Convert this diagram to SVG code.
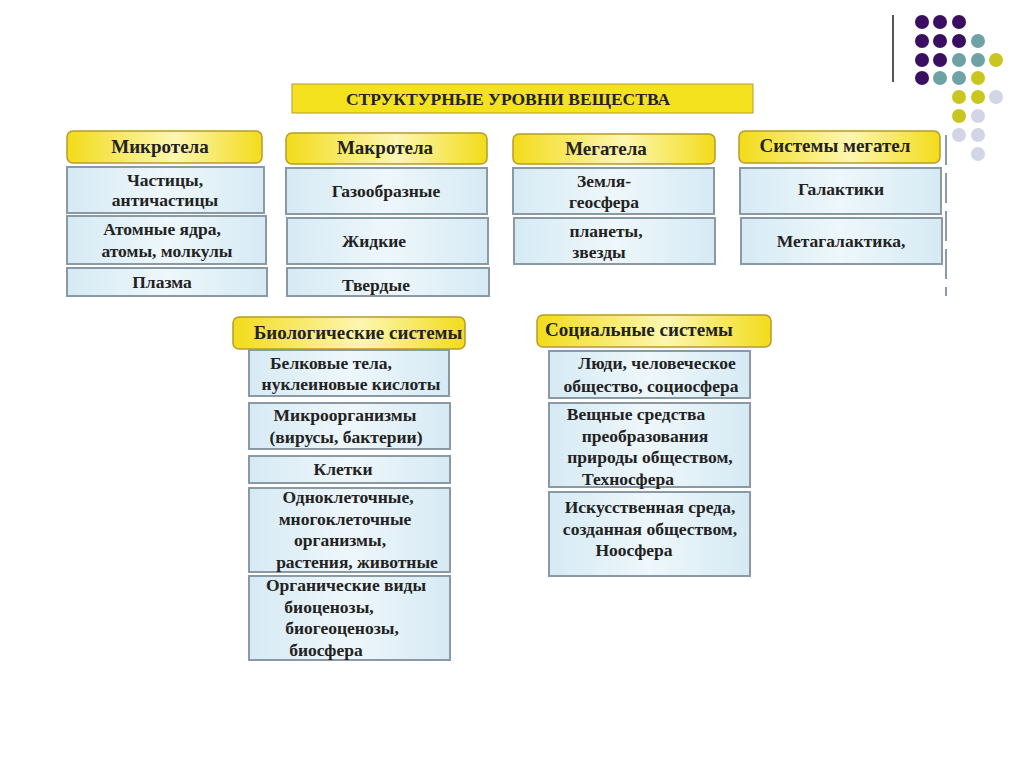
<svg xmlns="http://www.w3.org/2000/svg" width="1024" height="767" viewBox="0 0 1024 767">
<defs>
<linearGradient id="yg" x1="0" y1="0" x2="1" y2="0">
<stop offset="0" stop-color="#f2dc1a"/><stop offset="0.55" stop-color="#fdf6b0"/><stop offset="1" stop-color="#f2dc1a"/>
</linearGradient>
<linearGradient id="bg" x1="0" y1="0" x2="1" y2="0">
<stop offset="0" stop-color="#d6eaf4"/><stop offset="0.5" stop-color="#eef7fb"/><stop offset="1" stop-color="#d6eaf4"/>
</linearGradient>
<style>
.h{fill:url(#yg);stroke:#b89a2a;stroke-width:1.5}
.b{fill:url(#bg);stroke:#8a9aa4;stroke-width:2}
text{font-family:"Liberation Serif",serif;font-weight:bold;font-size:17.5px;fill:#222;text-anchor:middle}
.ht{font-size:19px}
.tt{font-size:17.5px}
.p{fill:#3a0f62}.t{fill:#6fa2a4}.y{fill:#c9c71f}.l{fill:#d3d4e6}
</style>
</defs>
<rect width="1024" height="767" fill="#fff"/>
<g id="deco">
<line x1="893" y1="15" x2="893" y2="82" stroke="#555" stroke-width="2"/>
<circle class="p" cx="922" cy="22" r="7"/><circle class="p" cx="940" cy="22" r="7"/><circle class="p" cx="959" cy="22" r="7"/>
<circle class="p" cx="922" cy="41" r="7"/><circle class="p" cx="940" cy="41" r="7"/><circle class="p" cx="959" cy="41" r="7"/><circle class="t" cx="978" cy="41" r="7"/>
<circle class="p" cx="922" cy="60" r="7"/><circle class="p" cx="940" cy="60" r="7"/><circle class="t" cx="959" cy="60" r="7"/><circle class="t" cx="978" cy="60" r="7"/><circle class="y" cx="996" cy="60" r="7"/>
<circle class="p" cx="922" cy="78" r="7"/><circle class="t" cx="940" cy="78" r="7"/><circle class="t" cx="959" cy="78" r="7"/><circle class="y" cx="978" cy="78" r="7"/>
<circle class="y" cx="959" cy="97" r="7"/><circle class="y" cx="978" cy="97" r="7"/><circle class="l" cx="996" cy="97" r="7"/>
<circle class="y" cx="959" cy="116" r="7"/><circle class="l" cx="978" cy="116" r="7"/>
<circle class="l" cx="959" cy="135" r="7"/><circle class="l" cx="978" cy="135" r="7"/>
<circle class="l" cx="978" cy="154" r="7"/>
</g>
<g id="title"><rect x="292" y="84" width="461" height="29" fill="#f5e21e" stroke="#b89a2a"/><text class="tt" x="508" y="105">СТРУКТУРНЫЕ УРОВНИ ВЕЩЕСТВА</text></g>
<g id="micro">
<rect class="h" x="67" y="131" width="195" height="32" rx="6"/><text class="ht" x="160" y="153">Микротела</text>
<rect class="b" x="67" y="167" width="197" height="46"/><text x="165" y="186">Частицы,</text><text x="165" y="206">античастицы</text>
<rect class="b" x="67" y="216" width="199" height="48"/><text x="162" y="235">Атомные ядра,</text><text x="167" y="257">атомы, молкулы</text>
<rect class="b" x="67" y="268" width="200" height="28"/><text x="162" y="288">Плазма</text>
</g>
<g id="macro">
<rect class="h" x="286" y="133" width="201" height="31" rx="6"/><text class="ht" x="385" y="154">Макротела</text>
<rect class="b" x="286" y="168" width="201" height="46"/><text x="386" y="197">Газообразные</text>
<rect class="b" x="287" y="218" width="201" height="46"/><text x="374" y="247">Жидкие</text>
<rect class="b" x="287" y="268" width="202" height="28"/><text x="376" y="291">Твердые</text>
</g>
<g id="mega">
<rect class="h" x="513" y="134" width="202" height="30" rx="6"/><text class="ht" x="606" y="155">Мегатела</text>
<rect class="b" x="513" y="168" width="201" height="46"/><text x="604" y="187">Земля-</text><text x="604" y="208">геосфера</text>
<rect class="b" x="514" y="218" width="201" height="46"/><text x="606" y="237">планеты,</text><text x="599" y="258">звезды</text>
</g>
<g id="sysmega">
<rect class="h" x="739" y="131" width="201" height="32" rx="6"/><text class="ht" x="835" y="152">Системы мегател</text>
<rect class="b" x="740" y="168" width="201" height="46"/><text x="841" y="195">Галактики</text>
<rect class="b" x="741" y="218" width="201" height="46"/><text x="841" y="247">Метагалактика,</text>
<line x1="946" y1="135" x2="946" y2="296" stroke="#8a9aa4" stroke-width="2" stroke-dasharray="30,8"/>
</g>
<g id="bio">
<rect class="h" x="233" y="317" width="232" height="32" rx="6"/><text class="ht" x="358" y="339">Биологические системы</text>
<rect class="b" x="249" y="350" width="200" height="46"/><text x="331" y="369">Белковые тела,</text><text x="351" y="390">нуклеиновые кислоты</text>
<rect class="b" x="249" y="403" width="201" height="46"/><text x="345" y="421">Микроорганизмы</text><text x="346" y="443">(вирусы, бактерии)</text>
<rect class="b" x="249" y="456" width="201" height="27"/><text x="343" y="475">Клетки</text>
<rect class="b" x="249" y="488" width="201" height="84"/><text x="348" y="503">Одноклеточные,</text><text x="345" y="525">многоклеточные</text><text x="340" y="546">организмы,</text><text x="357" y="568">растения, животные</text>
<rect class="b" x="249" y="576" width="201" height="84"/><text x="346" y="591">Органические виды</text><text x="329" y="613">биоценозы,</text><text x="342" y="634">биогеоценозы,</text><text x="326" y="656">биосфера</text>
</g>
<g id="social">
<rect class="h" x="537" y="315" width="234" height="32" rx="6"/><text class="ht" x="639" y="336">Социальные системы</text>
<rect class="b" x="549" y="351" width="201" height="47"/><text x="657" y="369">Люди, человеческое</text><text x="651" y="392">общество, социосфера</text>
<rect class="b" x="549" y="403" width="201" height="84"/><text x="636" y="420">Вещные средства</text><text x="645" y="442">преобразования</text><text x="650" y="463">природы обществом,</text><text x="628" y="485">Техносфера</text>
<rect class="b" x="549" y="492" width="201" height="84"/><text x="650" y="513">Искусственная среда,</text><text x="650" y="535">созданная обществом,</text><text x="634" y="556">Ноосфера</text>
</g>
<g id="connectors"/>
</svg>
